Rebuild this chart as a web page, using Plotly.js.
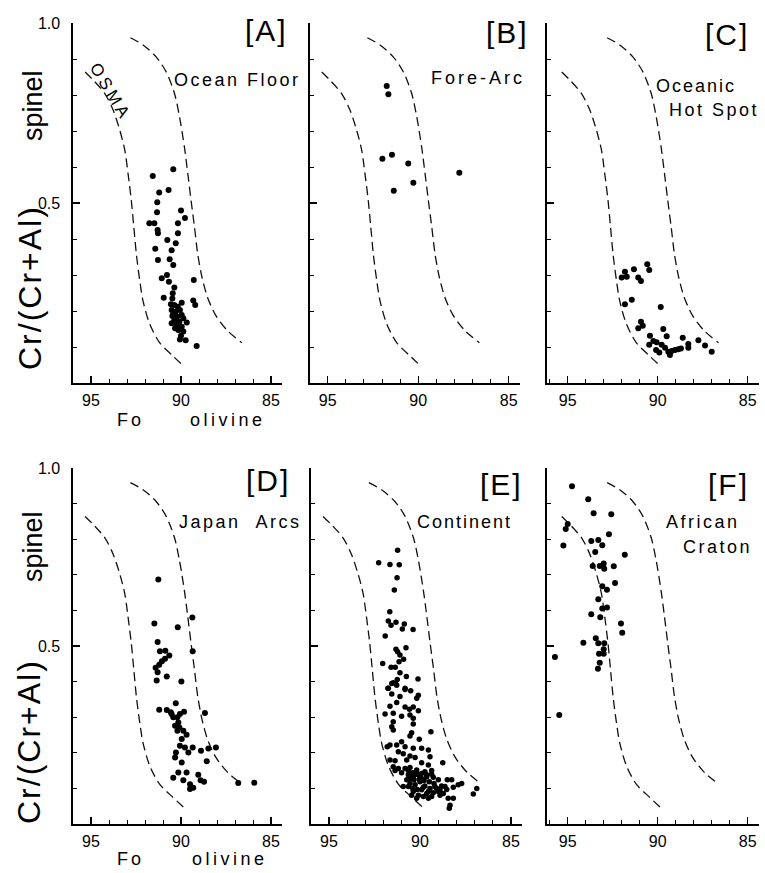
<!DOCTYPE html>
<html>
<head>
<meta charset="utf-8">
<script src="https://cdn.plot.ly/plotly-3.0.1.min.js"></script>
<style>
html,body{margin:0;padding:0;background:#fff;}
#chart{width:765px;height:873px;}
</style>
</head>
<body>
<div id="chart"></div>
<script>
// ---------- OSMA boundary curves (olivine Fo vs spinel Cr#) ----------
const osmaLoX = [95.33, 94.87, 94.23, 93.77, 93.40, 93.12, 92.94, 92.76, 92.62, 92.48, 92.29, 92.11, 91.74, 91.19, 90.45, 89.81];
const osmaLoY = [0.864, 0.841, 0.804, 0.758, 0.702, 0.646, 0.581, 0.507, 0.433, 0.358, 0.284, 0.228, 0.164, 0.112, 0.075, 0.045];
const osmaHiX = [92.81, 92.11, 91.38, 90.82, 90.36, 90.08, 89.81, 89.62, 89.44, 89.25, 89.07, 88.83, 88.52, 88.06, 87.41, 86.62];
const osmaHiY = [0.959, 0.939, 0.906, 0.864, 0.804, 0.739, 0.655, 0.581, 0.507, 0.433, 0.358, 0.293, 0.237, 0.187, 0.145, 0.112];

// ---------- [A] Ocean Floor ----------
const foA = [90.43,91.57,91.21,90.69,91.32,91.33,90.00,89.78,91.76,91.48,90.17,91.30,91.28,90.17,90.76,90.29,91.43,90.52,91.28,90.63,90.43,91.07,90.78,90.67,89.29,90.37,90.96,90.46,90.48,89.32,89.21,89.96,90.56,90.37,90.18,90.52,90.29,90.06,90.48,90.22,89.96,90.37,90.09,90.52,90.24,89.68,89.96,90.15,89.87,90.00,89.74,90.06,89.13,90.33,89.87,90.43];
const crA = [0.594,0.575,0.529,0.536,0.502,0.474,0.479,0.458,0.444,0.444,0.444,0.425,0.416,0.416,0.397,0.388,0.373,0.369,0.342,0.344,0.328,0.291,0.300,0.281,0.286,0.265,0.237,0.249,0.235,0.229,0.217,0.223,0.219,0.217,0.212,0.203,0.198,0.203,0.186,0.184,0.189,0.175,0.170,0.166,0.161,0.168,0.156,0.147,0.143,0.131,0.119,0.121,0.103,0.152,0.180,0.192];

// ---------- [B] Fore-Arc ----------
const foB = [91.74,91.65,91.98,91.45,90.55,90.27,91.35,87.73];
const crB = [0.825,0.802,0.623,0.634,0.610,0.556,0.534,0.584];

// ---------- [C] Oceanic Hot Spot ----------
const foC = [92.00,91.82,91.72,91.32,91.08,90.93,90.58,90.47,91.82,91.44,89.83,90.93,91.08,90.83,89.69,90.43,89.50,90.24,90.47,90.06,89.78,90.09,89.91,89.59,89.41,89.22,89.04,88.86,88.71,88.61,88.30,88.30,87.74,87.37,87.00,89.32];
const crC = [0.293,0.309,0.295,0.316,0.293,0.283,0.330,0.314,0.219,0.231,0.211,0.170,0.152,0.159,0.150,0.131,0.130,0.117,0.106,0.113,0.106,0.092,0.085,0.098,0.087,0.089,0.092,0.094,0.096,0.126,0.108,0.098,0.119,0.104,0.087,0.078];

// ---------- [D] Japan Arcs ----------
const foD = [91.26,91.48,90.18,89.37,91.30,91.17,90.87,90.65,89.35,90.89,91.06,91.21,91.41,91.30,90.79,91.35,89.98,91.21,90.79,90.57,90.29,90.43,90.06,89.83,88.67,90.33,90.09,90.20,89.87,89.69,89.96,90.06,89.78,89.35,90.28,89.59,88.89,88.48,88.06,90.33,89.96,88.57,90.43,90.15,89.69,89.87,89.50,89.32,89.50,89.04,88.91,88.72,86.82,85.93,90.20,90.15,90.52];
const crD = [0.687,0.563,0.553,0.580,0.511,0.485,0.487,0.473,0.485,0.464,0.457,0.447,0.439,0.426,0.414,0.403,0.400,0.321,0.320,0.314,0.339,0.300,0.309,0.315,0.312,0.276,0.271,0.262,0.262,0.251,0.239,0.220,0.215,0.215,0.201,0.201,0.206,0.212,0.215,0.187,0.173,0.176,0.130,0.145,0.145,0.123,0.112,0.102,0.098,0.138,0.123,0.119,0.115,0.116,0.300,0.285,0.309];

// ---------- [E] Continent ----------
const foE = [91.23,92.27,91.65,91.14,91.26,91.41,91.66,91.74,91.59,91.32,90.86,90.97,90.38,91.91,91.32,91.23,90.77,91.10,90.90,91.15,92.05,91.59,91.36,91.10,90.75,90.11,91.25,91.55,91.34,91.76,90.82,
  91.47,91.74,91.28,90.82,90.51,90.09,91.55,91.10,90.18,91.28,91.65,90.82,90.58,90.37,90.09,91.92,91.47,91.01,90.55,90.37,91.47,91.55,90.37,91.47,89.40,90.46,90.55,90.04,91.65,91.80,91.28,91.01,90.82,90.37,89.91,89.54,91.19,90.92,90.55,90.27,89.45,91.65,91.37,90.73,89.91,88.75,89.54,91.47,91.19,90.82,90.55,90.18,89.73,89.36,91.37,91.01,90.64,90.37,90.09,89.91,89.63,89.27,88.99,90.73,90.55,90.27,90.00,89.73,89.45,89.18,88.90,88.63,88.50,88.26,88.17,87.90,87.71,86.88,87.07,90.37,89.63,89.36,88.90,88.45,88.17,88.35,88.39,90.92,89.91,88.72,
  90.64,90.40,90.18,89.91,89.63,89.36,90.55,90.33,90.04,89.78,89.49,89.23,90.64,90.40,90.15,89.82,89.54,89.27,88.99,90.09,89.82,89.54,89.08,88.81,88.53,90.18,90.46];
const crE = [0.769,0.734,0.729,0.728,0.692,0.657,0.596,0.570,0.558,0.567,0.562,0.548,0.546,0.528,0.491,0.484,0.495,0.475,0.463,0.456,0.451,0.440,0.440,0.425,0.414,0.407,0.406,0.395,0.395,0.381,0.381,
  0.397,0.381,0.390,0.378,0.374,0.362,0.365,0.358,0.353,0.341,0.331,0.329,0.322,0.329,0.318,0.309,0.311,0.303,0.306,0.297,0.287,0.273,0.281,0.264,0.259,0.256,0.247,0.238,0.222,0.217,0.222,0.231,0.217,0.213,0.213,0.208,0.203,0.197,0.191,0.187,0.189,0.180,0.178,0.180,0.172,0.172,0.166,0.161,0.156,0.156,0.159,0.152,0.147,0.150,0.150,0.144,0.138,0.133,0.138,0.128,0.133,0.131,0.124,0.124,0.114,0.110,0.119,0.107,0.100,0.105,0.096,0.105,0.124,0.124,0.103,0.110,0.114,0.100,0.084,0.091,0.086,0.077,0.081,0.072,0.072,0.053,0.044,0.105,0.096,0.086,
  0.150,0.144,0.140,0.142,0.138,0.140,0.128,0.124,0.126,0.122,0.119,0.114,0.105,0.100,0.097,0.103,0.091,0.088,0.091,0.081,0.077,0.072,0.100,0.107,0.097,0.072,0.081];

// ---------- [F] African Craton ----------
const foF = [94.76,93.86,93.56,92.58,95.00,95.11,95.24,93.69,93.30,93.08,92.71,91.83,93.47,93.61,93.22,93.00,92.97,92.44,93.08,92.82,92.37,93.30,93.08,92.82,93.69,93.19,92.04,91.97,94.13,93.44,93.30,92.97,93.26,93.00,93.00,93.22,93.32,95.71,95.47];
const crF = [0.949,0.912,0.873,0.870,0.843,0.829,0.782,0.795,0.798,0.783,0.814,0.756,0.764,0.725,0.725,0.732,0.717,0.724,0.668,0.658,0.677,0.631,0.605,0.608,0.589,0.581,0.563,0.537,0.509,0.522,0.508,0.508,0.478,0.478,0.491,0.453,0.436,0.469,0.306];

const panels = [
  {fo: foA, cr: crA, xa: 'x',  ya: 'y'},
  {fo: foB, cr: crB, xa: 'x2', ya: 'y2'},
  {fo: foC, cr: crC, xa: 'x3', ya: 'y3'},
  {fo: foD, cr: crD, xa: 'x4', ya: 'y4'},
  {fo: foE, cr: crE, xa: 'x5', ya: 'y5'},
  {fo: foF, cr: crF, xa: 'x6', ya: 'y6'}
];

const traces = [];
const dashLine = {color: '#111', width: 1.3, dash: '9px,5px', shape: 'spline', smoothing: 0.8};
panels.forEach((p, i) => {
  traces.push({x: osmaLoX, y: osmaLoY, xaxis: p.xa, yaxis: p.ya, mode: 'lines', line: dashLine, hoverinfo: 'skip'});
  traces.push({x: osmaHiX, y: osmaHiY, xaxis: p.xa, yaxis: p.ya, mode: 'lines', line: dashLine, hoverinfo: 'skip'});
  traces.push({x: p.fo, y: p.cr, xaxis: p.xa, yaxis: p.ya, mode: 'markers',
    marker: {color: '#000', size: i === 4 ? 5.5 : 6}});
});

const W = 765, H = 873;
const px = v => v / W;
const py = v => 1 - v / H;
const topRow = [py(383), py(23)];
const botRow = [py(824), py(468)];

function xAxis(dom, rng, anchor) {
  return {
    domain: dom, range: rng, anchor: anchor,
    showline: true, linecolor: '#000', linewidth: 1.6, mirror: false,
    showgrid: false, zeroline: false,
    ticks: 'inside', ticklen: 7, tickwidth: 1.3, tickcolor: '#000',
    tickvals: [95, 90, 85], ticktext: ['95', '90', '85'],
    minor: {ticks: 'inside', ticklen: 4, tickwidth: 1, tickcolor: '#000', dtick: 1, tick0: 85, showgrid: false},
    tickfont: {family: 'Liberation Sans, Arial, sans-serif', size: 16, color: '#000'},
    ticklabelstandoff: 2
  };
}
function yAxis(dom, anchor, labels) {
  return {
    domain: dom, range: [0, 1.0], anchor: anchor,
    showline: true, linecolor: '#000', linewidth: 1.6, mirror: false,
    showgrid: false, zeroline: false,
    ticks: 'inside', ticklen: 7, tickwidth: 1.3, tickcolor: '#000',
    tickvals: [0.5, 1.0], ticktext: ['0.5', '1.0'],
    showticklabels: labels,
    minor: {ticks: 'inside', ticklen: 4, tickwidth: 1, tickcolor: '#000', dtick: 0.1, tick0: 0, showgrid: false},
    tickfont: {family: 'Liberation Sans, Arial, sans-serif', size: 16, color: '#000'},
    ticklabelstandoff: 8
  };
}

const colA = [px(73), px(281.8)];
const colB = [px(309.6), px(519.6)];
const colC = [px(547), px(758.5)];
const colE = [px(310.8), px(521.9)];
const rngAB = [96, 84.4];
const rngC = [96.15, 84.4];

const font = (s) => ({family: 'Liberation Sans, Arial, sans-serif', size: s, color: '#000'});
const sp = (t, ls) => '<span style="letter-spacing:' + ls + 'px">' + t + '</span>';
function ann(text, x, y, size, ls, angle) {
  return {text: sp(text, ls), xref: 'paper', yref: 'paper', x: px(x), y: py(y),
    xanchor: 'center', yanchor: 'middle', showarrow: false, font: font(size), textangle: angle || 0};
}

const annotations = [
  ann('[A]', 266, 31, 30, 2), ann('[B]', 507, 33, 30, 2), ann('[C]', 727, 35, 30, 2),
  ann('[D]', 268, 480, 30, 2), ann('[E]', 501, 484, 30, 2), ann('[F]', 728, 484, 30, 2),
  ann('Ocean Floor', 237, 80, 18, 2.5), ann('Fore-Arc', 478, 78, 18, 3),
  ann('Oceanic', 696, 86, 18, 2), ann('Hot Spot', 714, 110, 18, 2.5),
  ann('Japan&nbsp;&nbsp;Arcs', 240, 522, 18, 2.5), ann('Continent', 465, 522, 18, 2),
  ann('African', 703, 522, 18, 2.5), ann('Craton', 717, 547, 18, 2.5),
  ann('OSMA', 110, 92, 17, 3.5, 59),
  ann('spinel', 33, 106, 27, 0, -90), ann('Cr/(Cr+Al)', 30, 288, 32, 2, -90),
  ann('spinel', 33, 547, 27, 0, -90), ann('Cr/(Cr+Al)', 29, 742, 32, 2, -90),
  ann('Fo', 130, 420, 18, 3), ann('olivine', 228, 420, 18, 3.5),
  ann('Fo', 130, 859, 18, 3), ann('olivine', 230, 859, 18, 3.5)
];

const layout = {
  width: W, height: H,
  margin: {l: 0, r: 0, t: 0, b: 0},
  paper_bgcolor: '#fff', plot_bgcolor: 'rgba(0,0,0,0)',
  showlegend: false,
  font: font(16),
  xaxis: xAxis(colA, rngAB, 'y'),
  xaxis2: xAxis(colB, rngAB, 'y2'),
  xaxis3: xAxis(colC, rngC, 'y3'),
  xaxis4: xAxis(colA, rngAB, 'y4'),
  xaxis5: xAxis(colE, rngAB, 'y5'),
  xaxis6: xAxis(colC, rngC, 'y6'),
  yaxis: yAxis(topRow, 'x', true),
  yaxis2: yAxis(topRow, 'x2', false),
  yaxis3: yAxis(topRow, 'x3', false),
  yaxis4: yAxis(botRow, 'x4', true),
  yaxis5: yAxis(botRow, 'x5', false),
  yaxis6: yAxis(botRow, 'x6', false),
  annotations: annotations
};

Plotly.newPlot('chart', traces, layout, {staticPlot: true, displayModeBar: false});
</script>
</body>
</html>
